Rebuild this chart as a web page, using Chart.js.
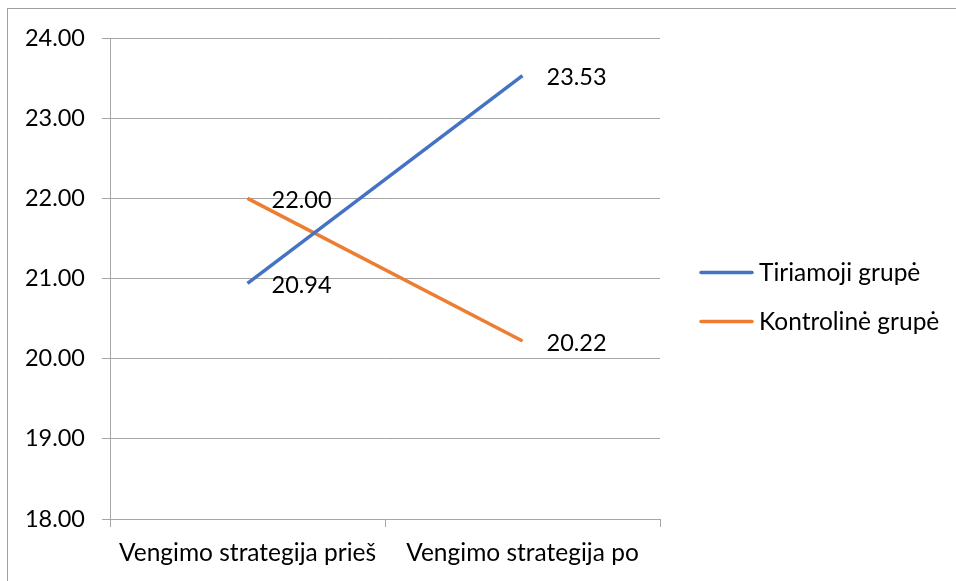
<!DOCTYPE html>
<html>
<head>
<meta charset="utf-8">
<script src="https://cdn.jsdelivr.net/npm/chart.js@4"></script>
<style>
    html, body { margin: 0; padding: 0; background: #fff; }
    #wrap { position: relative; width: 956px; height: 581px; overflow: hidden; }
    #frame { position: absolute; left: 7px; top: 8px; width: 960px; height: 600px; border: 1px solid #a0a0a0; pointer-events: none; }
    canvas { position: absolute; left: 0; top: 0; }
</style>
</head>
<body>
<div id="wrap">
    <canvas id="chart" width="956" height="581"></canvas>
    <div id="frame"></div>
</div>
<script>
const categories = ['Vengimo strategija prieš', 'Vengimo strategija po'];
const seriesNames = ['Tiriamoji grupė', 'Kontrolinė grupė'];
const tiriamojiValues = [20.94, 23.53];
const kontrolineValues = [22.00, 20.22];
const seriesColors = ['#4472C4', '#ED7D31'];
const yTicks = [18, 19, 20, 21, 22, 23, 24];

const FONT = 'Lato, "Open Sans", sans-serif';
const gridColor = '#a6a6a6';

// value labels next to each point
const valueLabels = {
    id: 'valueLabels',
    afterDatasetsDraw(chart) {
        const ctx = chart.ctx;
        ctx.save();
        ctx.font = '23.5px ' + FONT;
        ctx.fillStyle = '#000';
        ctx.textAlign = 'left';
        ctx.textBaseline = 'middle';
        chart.data.datasets.forEach((ds, i) => {
            const meta = chart.getDatasetMeta(i);
            meta.data.forEach((pt, j) => {
                ctx.fillText(ds.data[j].toFixed(2), pt.x + 24, pt.y + 2);
            });
        });
        ctx.restore();
    }
};

// legend on the right, drawn as line + text
const sideLegend = {
    id: 'sideLegend',
    afterDraw(chart) {
        const ctx = chart.ctx;
        const area = chart.chartArea;
        const x0 = area.right + 40;
        const midY = (area.top + area.bottom) / 2;
        ctx.save();
        ctx.font = '24.5px ' + FONT;
        ctx.textBaseline = 'middle';
        ctx.textAlign = 'left';
        chart.data.datasets.forEach((ds, i) => {
            const y = midY - 6 + i * 49;
            ctx.strokeStyle = ds.borderColor;
            ctx.lineWidth = 3.5;
            ctx.lineCap = 'round';
            ctx.beginPath();
            ctx.moveTo(x0 + 1, y);
            ctx.lineTo(x0 + 52, y);
            ctx.stroke();
            ctx.fillStyle = '#000';
            ctx.fillText(ds.label, x0 + 59, y + 1);
        });
        ctx.restore();
    }
};

new Chart(document.getElementById('chart').getContext('2d'), {
    type: 'line',
    data: {
        labels: categories,
        datasets: [
            {
                label: seriesNames[0],
                data: tiriamojiValues,
                borderColor: seriesColors[0],
                backgroundColor: seriesColors[0],
                borderWidth: 3.5,
                pointRadius: 0,
                tension: 0
            },
            {
                label: seriesNames[1],
                data: kontrolineValues,
                borderColor: seriesColors[1],
                backgroundColor: seriesColors[1],
                borderWidth: 3.5,
                pointRadius: 0,
                tension: 0
            }
        ]
    },
    options: {
        responsive: false,
        animation: false,
        layout: { padding: { top: 38, right: 296, left: 0, bottom: 0 } },
        plugins: {
            legend: { display: false },
            tooltip: { enabled: false }
        },
        scales: {
            x: {
                offset: true,
                grid: {
                    offset: true,
                    drawOnChartArea: false,
                    drawTicks: true,
                    tickLength: 8,
                    color: gridColor
                },
                border: { color: gridColor },
                ticks: {
                    color: '#000',
                    font: { family: FONT, size: 24.5 },
                    padding: 11,
                    maxRotation: 0
                },
                afterFit(scale) { scale.height = 62; }
            },
            y: {
                min: 18,
                max: 24,
                afterBuildTicks(scale) { scale.ticks = yTicks.map(v => ({ value: v })); },
                grid: {
                    color: gridColor,
                    tickLength: 8
                },
                border: { color: gridColor },
                ticks: {
                    color: '#000',
                    font: { family: FONT, size: 23.5 },
                    padding: 17,
                    callback: v => Number(v).toFixed(2)
                },
                afterFit(scale) { scale.width = 110; }
            }
        }
    },
    plugins: [valueLabels, sideLegend]
});
</script>
</body>
</html>
